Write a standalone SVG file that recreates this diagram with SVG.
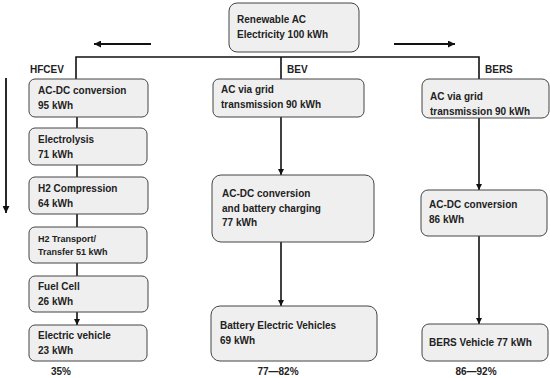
<svg xmlns="http://www.w3.org/2000/svg" width="550" height="378" viewBox="0 0 550 378">
<defs>
<marker id="ah" viewBox="0 0 10 10" refX="10" refY="5" markerWidth="6" markerHeight="6" markerUnits="userSpaceOnUse" orient="auto">
<path d="M0,0 L10,5 L0,10 z" fill="#111"/>
</marker>
<marker id="ahb" viewBox="0 0 10 10" refX="10" refY="5" markerWidth="8" markerHeight="7" markerUnits="userSpaceOnUse" orient="auto">
<path d="M0,0 L10,5 L0,10 z" fill="#111"/>
</marker>
</defs>
<style>
.box{fill:#efefef;stroke:#444;stroke-width:1}
text{font-family:"Liberation Sans",Arial,sans-serif;font-weight:bold;font-size:10px;fill:#222}
.sm{font-size:9px}
.ln{stroke:#111;stroke-width:1.6;fill:none}
.ar{stroke:#111;stroke-width:1.6;fill:none;marker-end:url(#ah)}
.big{stroke:#111;stroke-width:1.8;fill:none;marker-end:url(#ahb)}
</style>
<rect width="550" height="378" fill="#fff"/>
<g id="connectors">
<line class="big" x1="151" y1="44" x2="94" y2="44"/>
<line class="big" x1="394" y1="44" x2="455" y2="44"/>
<line class="big" x1="6" y1="78" x2="6" y2="213"/>
<polyline class="ln" points="76,79 76,57 479,57 479,79"/>
<line class="ln" x1="281" y1="57" x2="281" y2="79"/>
<line class="ln" x1="77" y1="117" x2="77" y2="128"/>
<line class="ln" x1="77" y1="165" x2="77" y2="177"/>
<line class="ln" x1="77" y1="214" x2="77" y2="227"/>
<line class="ln" x1="77" y1="263" x2="77" y2="276"/>
<line class="ar" x1="77" y1="312" x2="77" y2="325"/>
<line class="ar" x1="281" y1="117" x2="281" y2="175"/>
<line class="ar" x1="281" y1="242" x2="281" y2="306"/>
<line class="ar" x1="479" y1="118" x2="479" y2="190"/>
<line class="ar" x1="479" y1="236" x2="479" y2="324"/>
</g>
<g id="labels">
<text x="30" y="73">HFCEV</text>
<text x="287" y="73">BEV</text>
<text x="485" y="73">BERS</text>
<text x="61" y="375" text-anchor="middle">35%</text>
<text x="278" y="375" text-anchor="middle">77—82%</text>
<text x="476" y="375" text-anchor="middle">86—92%</text>
</g>
<g id="source">
<rect class="box" x="229" y="3" width="130" height="49" rx="8"/>
<text x="237" y="23">Renewable AC</text>
<text x="237" y="38">Electricity 100 kWh</text>
</g>
<g id="h1">
<rect class="box" x="29" y="79" width="119" height="38" rx="6"/>
<text x="38" y="94">AC-DC conversion</text>
<text x="38" y="109">95 kWh</text>
</g>
<g id="h2">
<rect class="box" x="29" y="128" width="118" height="37" rx="6"/>
<text x="38" y="143">Electrolysis</text>
<text x="38" y="158">71 kWh</text>
</g>
<g id="h3">
<rect class="box" x="29" y="177" width="119" height="37" rx="6"/>
<text x="38" y="192">H2 Compression</text>
<text x="38" y="207">64 kWh</text>
</g>
<g id="h4">
<rect class="box" x="29" y="227" width="118" height="36" rx="6"/>
<text class="sm" x="38" y="242">H2 Transport/</text>
<text class="sm" x="38" y="255">Transfer 51 kWh</text>
</g>
<g id="h5">
<rect class="box" x="29" y="276" width="119" height="36" rx="6"/>
<text x="38" y="290">Fuel Cell</text>
<text x="38" y="305">26 kWh</text>
</g>
<g id="h6">
<rect class="box" x="29" y="325" width="118" height="36" rx="6"/>
<text x="38" y="339">Electric vehicle</text>
<text x="38" y="354">23 kWh</text>
</g>
<g id="b1">
<rect class="box" x="213" y="79" width="151" height="38" rx="6"/>
<text x="221" y="93">AC via grid</text>
<text x="221" y="108">transmission 90 kWh</text>
</g>
<g id="b2">
<rect class="box" x="212" y="175" width="162" height="67" rx="9"/>
<text x="222" y="197">AC-DC conversion</text>
<text x="222" y="212">and battery charging</text>
<text x="222" y="226">77 kWh</text>
</g>
<g id="b3">
<rect class="box" x="211" y="306" width="166" height="55" rx="9"/>
<text x="220" y="329">Battery Electric Vehicles</text>
<text x="220" y="344">69 kWh</text>
</g>
<g id="r1">
<rect class="box" x="422" y="79" width="127" height="39" rx="7"/>
<text x="430" y="100">AC via grid</text>
<text x="430" y="115">transmission 90 kWh</text>
</g>
<g id="r2">
<rect class="box" x="421" y="190" width="126" height="46" rx="7"/>
<text x="429" y="208">AC-DC conversion</text>
<text x="429" y="223">86 kWh</text>
</g>
<g id="r3">
<rect class="box" x="422" y="324" width="126" height="37" rx="7"/>
<text x="429" y="346">BERS Vehicle 77 kWh</text>
</g>
</svg>
